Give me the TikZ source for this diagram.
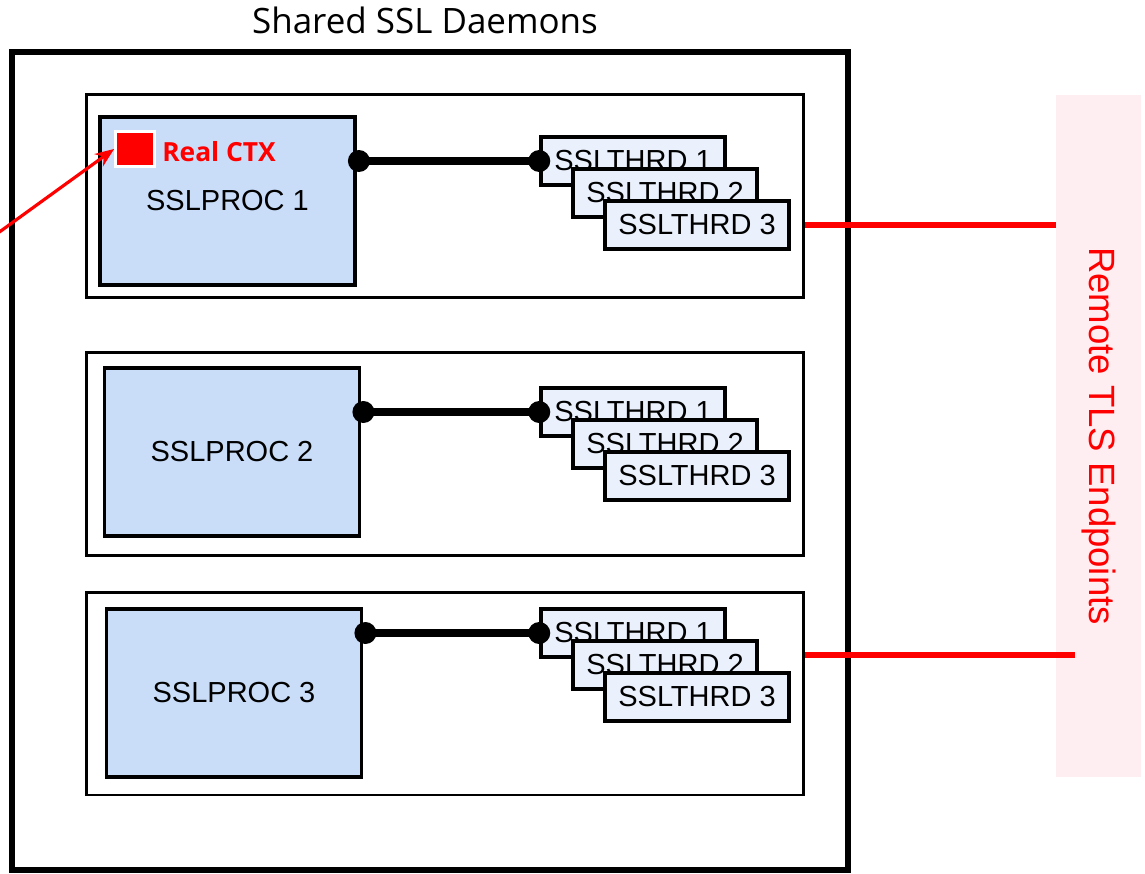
\documentclass[tikz,border=0pt]{standalone}
\usepackage{fontspec}
\setmainfont{Liberation Sans}
\newfontfamily\plexlike{Open Sans}
\usepackage{tikz}
\usetikzlibrary{arrows.meta}

\definecolor{procblue}{HTML}{C9DDF9}
\definecolor{thrdblue}{HTML}{EAF1FC}
\definecolor{remotepink}{HTML}{FEEEF2}

\tikzset{
  outer/.style={draw=black,line width=3.4pt,minimum width=16.72cm,minimum height=16.36cm,inner sep=0},
  grp/.style={draw=black,line width=1.7pt,fill=white,minimum width=14.34cm,minimum height=4.06cm,inner sep=0},
  proc/.style={draw=black,line width=2.2pt,fill=procblue,minimum width=5.1cm,minimum height=3.36cm,inner sep=0,
    font=\fontsize{16.5}{18}\selectfont},
  thrd/.style={draw=black,line width=2pt,fill=thrdblue,minimum width=3.68cm,minimum height=0.96cm,inner sep=0,
    font=\fontsize{16.5}{18}\selectfont},
  conn/.style={line width=4.4pt},
  dot/.style={fill=black},
  redline/.style={draw=red,line width=3.4pt},
  ctxarrow/.style={draw=red,line width=1.8pt,-{Stealth[length=0.38cm,width=0.3cm]}}
}

\begin{document}
\begin{tikzpicture}[x=0.02cm,y=-0.02cm]
\useasboundingbox (0,0) rectangle (1145,873);

\node[font=\plexlike\fontsize{19.9}{22}\selectfont] (ttl) at (425,20) {Shared SSL Daemons};
\node[outer] (shd) at (430,461) {};

\node[fill=remotepink,minimum width=1.7cm,minimum height=13.64cm,inner sep=0] (rem) at (1098.5,436) {};
\node[rotate=-90,text=red,font=\fontsize{20.8}{22}\selectfont] (remtxt) at (rem.center) {Remote TLS Endpoints};

\foreach \i/\gy/\px/\py/\ly in {1/196/227.5/201/161, 2/454/232/452/412, 3/693.5/234/693/633}
{
        \node[grp] (g\i) at (445,\gy) {};
        \node[proc] (p\i) at (\px,\py) {SSLPROC \i};
        \foreach \j in {1,2,3}
        {
                \node[thrd] (t\i\j) at (633+32*\j-32,\ly+32*\j-32) {SSLTHRD \j};
        }
        \draw[conn] ([xshift=0.04cm]p\i.east |- t\i1.west) -- (t\i1.west);
        \fill[dot] ([xshift=0.04cm]p\i.east |- t\i1.west) circle[radius=0.22cm];
        \fill[dot] (t\i1.west) circle[radius=0.22cm];
}

% real context inside the first process
\node[fill=red,draw=white,line width=1.6pt,minimum width=0.78cm,minimum height=0.7cm,inner sep=0] (ctx) at (135,149) {};
\node[anchor=west,inner sep=0,text=red,font=\plexlike\bfseries\fontsize{15}{17}\selectfont] (ctxtxt) at (162,152) {Real CTX};
\coordinate (src) at (-2,233);
\draw[ctxarrow] (src) -- (ctx.west);

\draw[redline] (g1.east |- t13) -- (rem.west |- t13);
\coordinate (e3) at (1075,655);
\draw[redline] (g3.east |- e3) -- (e3);
\end{tikzpicture}
\end{document}
